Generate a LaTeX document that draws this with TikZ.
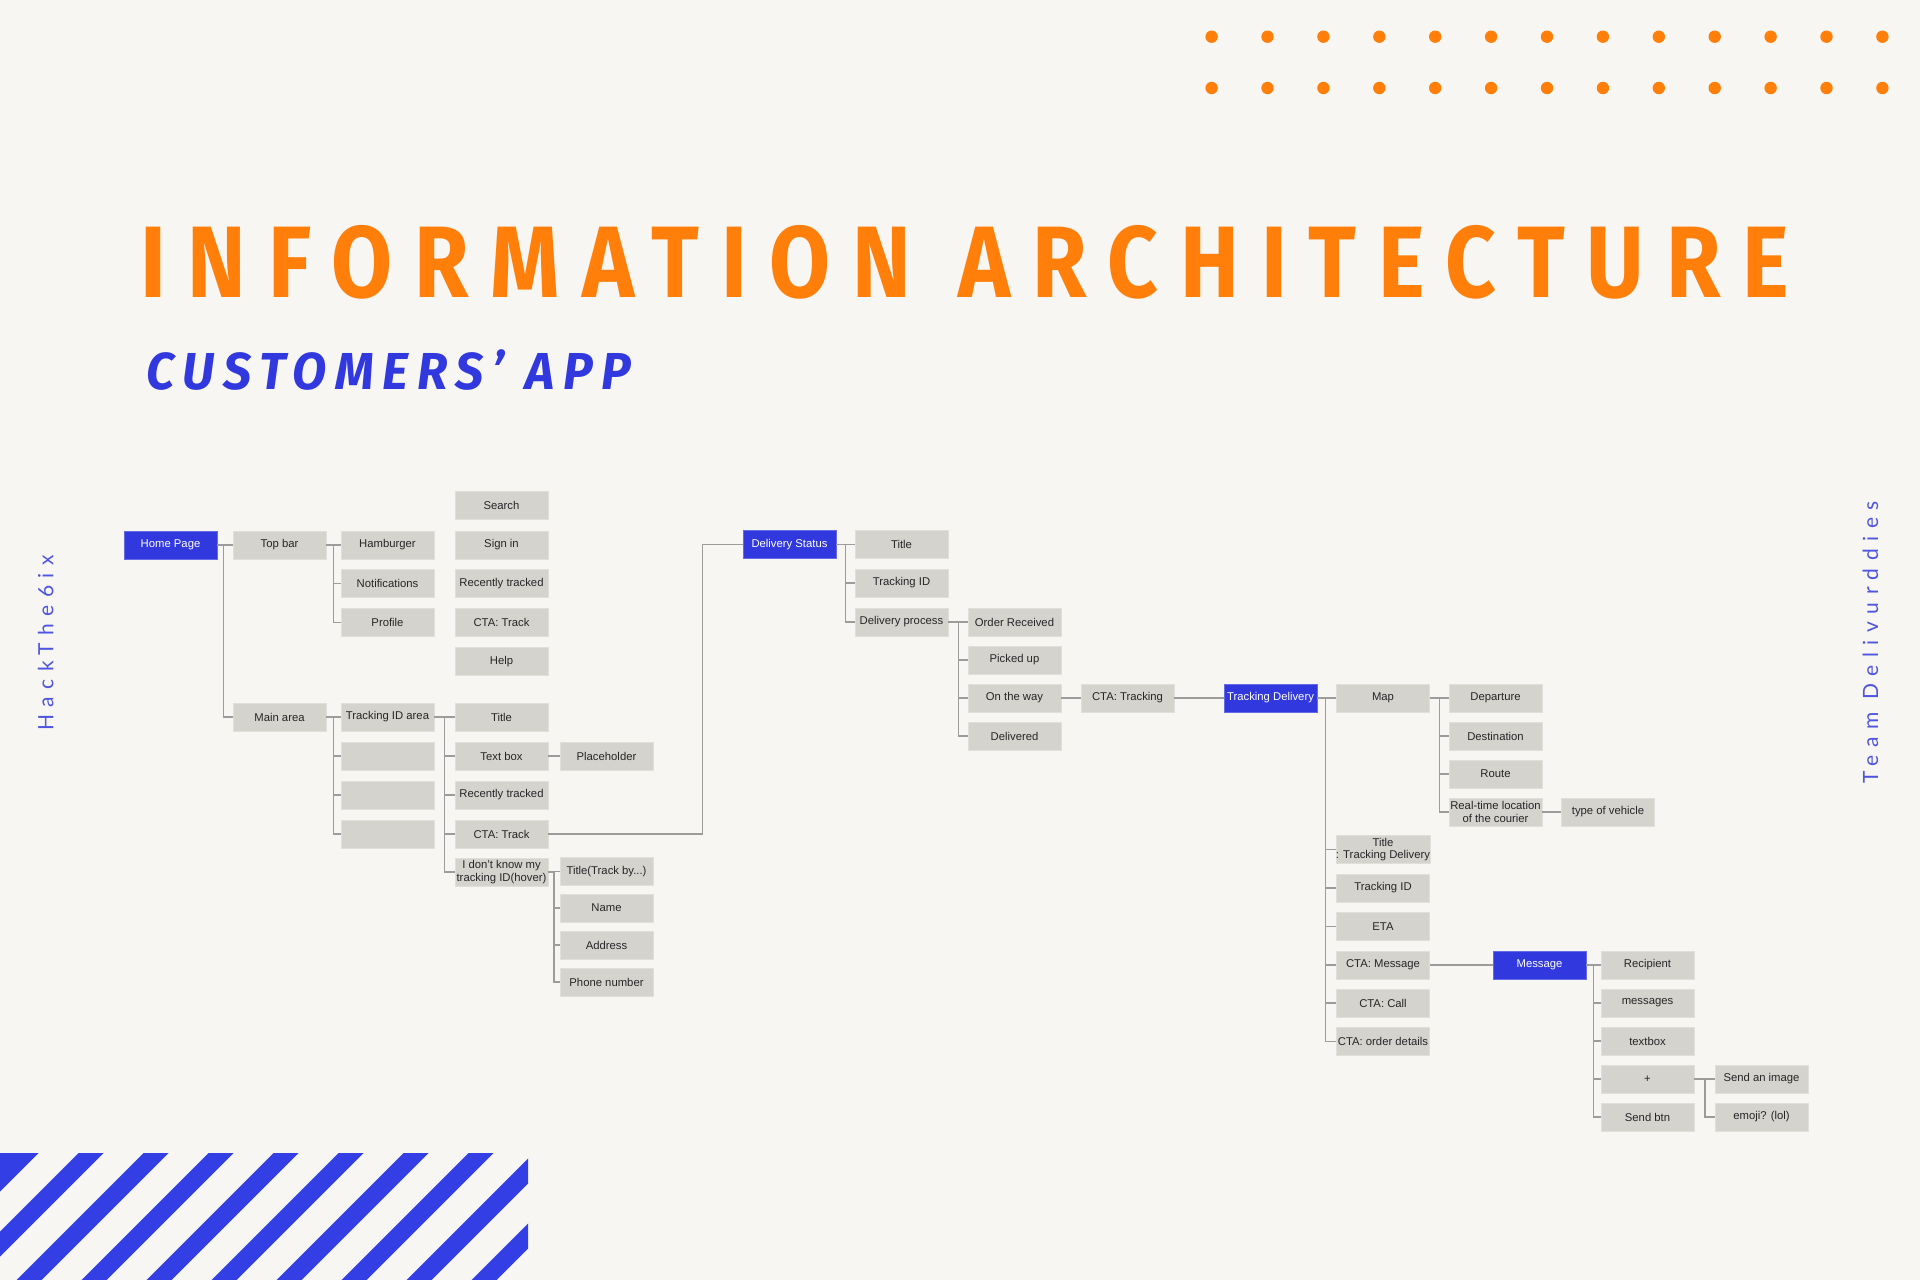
\documentclass[tikz,border=0pt]{standalone}
\usepackage{fontspec}
\setmainfont{Liberation Sans}
\newfontfamily\titlefont{Fira Sans}[FakeStretch=0.87,LetterSpace=21.5]
\newfontfamily\subtitlefont{Fira Sans}[FakeStretch=0.96,LetterSpace=17]
\newfontfamily\sidefont{Lato}[LetterSpace=36]
\usetikzlibrary{calc}
\definecolor{bg}{HTML}{F7F6F2}
\definecolor{accent}{HTML}{FF7F0A}
\definecolor{brand}{HTML}{3139DE}
\definecolor{stripeblue}{HTML}{333FE5}
\definecolor{boxgray}{HTML}{D4D3CE}
\definecolor{boxedge}{HTML}{E0DFDA}
\definecolor{linkgray}{HTML}{9C9C9A}
\definecolor{ink}{HTML}{262626}

\begin{document}
\begin{tikzpicture}[x=1pt,y=-1pt,
  item/.style={fill=boxgray, draw=boxedge, line width=0.8, minimum width=93, minimum height=28,
    inner sep=0, align=center, text=ink, font=\fontsize{11.3}{12.4}\selectfont},
  key/.style={item, fill=brand, draw=brand!75!white, text=white},
  link/.style={draw=linkgray, line width=1.3},
  dot/.style={fill=accent, draw=none}]

% canvas
\fill[bg] (0,0) rectangle (1920,1280);
\useasboundingbox (0,0) rectangle (1920,1280);

% dotted band, top right
\foreach \i in {0,...,12} {
  \fill[dot] (1211.6+55.9*\i,36.7) circle[radius=6.2];
  \fill[dot] (1211.6+55.9*\i,88) circle[radius=6.2];
}

% striped band, bottom left
\begin{scope}
  \clip (0,1153) rectangle (528,1280);
  \fill[stripeblue] (1153-1140,1140) -- (1191.6-1140,1140) -- (1191.6-1290,1290) -- (1153-1290,1290) -- cycle;
  \foreach \k in {1,...,10} {
    \pgfmathsetmacro{\c}{1166.6+65*\k}
    \fill[stripeblue] (\c-1140,1140) -- (\c+25-1140,1140) -- (\c+25-1290,1290) -- (\c-1290,1290) -- cycle;
  }
\end{scope}

% headings
\node[anchor=base west, inner sep=0, text=accent,
  font=\titlefont\bfseries\fontsize{101.6}{110}\selectfont] (title) at (140,297) {INFORMATION\hspace{5pt} ARCHITECTURE};
\node[anchor=base west, inner sep=0, text=brand,
  font=\subtitlefont\bfseries\itshape\fontsize{52}{56}\selectfont] (subtitle) at (146,389) {CUSTOMERS’\hspace{1pt} APP};

% side labels
\node[rotate=90, inner sep=0, text=brand!85!bg, font=\sidefont\fontsize{21}{21}\selectfont] (hack) at (45.8,643) {HackThe6ix};
\node[rotate=90, inner sep=0, text=brand!85!bg, font=\sidefont\fontsize{21}{21}\selectfont] (team) at (1870.5,642.5) {Team Delivurddies};

% ---- home page tree
\node[key]  (home)      at (170.5,545) {Home Page};
\node[item] (topbar)    at (279.5,545) {Top bar};
\node[item] (mainarea)  at (279.5,717) {Main area};
\node[item] (hamburger) at (387.5,545) {Hamburger};
\node[item] (notif)     at (387.5,583.5) {Notifications};
\node[item] (profile)   at (387.5,622.5) {Profile};
\node[item] (tia)       at (387.5,717) {Tracking ID area};
\node[item] (blanka)    at (387.5,756) {};
\node[item] (blankb)    at (387.5,795) {};
\node[item] (blankc)    at (387.5,834) {};

\node[item] (search)    at (501.5,505.5) {Search};
\node[item] (signin)    at (501.5,545) {Sign in};
\node[item] (recenta)   at (501.5,583.5) {Recently tracked};
\node[item] (ctatracka) at (501.5,622.5) {CTA: Track};
\node[item] (help)      at (501.5,661.5) {Help};

\node[item] (titlea)    at (501.5,717) {Title};
\node[item] (textbox)   at (501.5,756) {Text box};
\node[item] (recentb)   at (501.5,795) {Recently tracked};
\node[item] (ctatrackb) at (501.5,834) {CTA: Track};
\node[item] (idk)       at (501.5,872) {I don’t know my\\tracking ID(hover)};

\node[item] (placeholder) at (606.5,756) {Placeholder};
\node[item] (trackby)   at (606.5,871.5) {Title(Track by...)};
\node[item] (name)      at (606.5,908) {Name};
\node[item] (address)   at (606.5,945) {Address};
\node[item] (phone)     at (606.5,982) {Phone number};

% ---- delivery status tree
\node[key]  (ds)        at (789.5,544.5) {Delivery Status};
\node[item] (dtitle)    at (901.5,544.5) {Title};
\node[item] (dtid)      at (901.5,583) {Tracking ID};
\node[item] (dproc)     at (901.5,622) {Delivery process};
\node[item] (ordrec)    at (1014.5,622) {Order Received};
\node[item] (picked)    at (1014.5,660) {Picked up};
\node[item] (otw)       at (1014.5,698) {On the way};
\node[item] (delivered) at (1014.5,736) {Delivered};
\node[item] (ctatracking) at (1127.5,698) {CTA: Tracking};

% ---- tracking delivery tree
\node[key]  (td)        at (1270.5,698) {Tracking Delivery};
\node[item] (map)       at (1383,698) {Map};
\node[item] (departure) at (1495.5,698) {Departure};
\node[item] (destination) at (1495.5,736) {Destination};
\node[item] (route)     at (1495.5,774) {Route};
\node[item] (realtime)  at (1495.5,812) {Real-time location\\of the courier};
\node[item] (vehicle)   at (1608,812) {type of vehicle};
\node[item] (ttitle)    at (1383,849.5) {Title\\: Tracking Delivery};
\node[item] (ttid)      at (1383,888) {Tracking ID};
\node[item] (eta)       at (1383,926.5) {ETA};
\node[item] (ctamsg)    at (1383,965) {CTA: Message};
\node[item] (ctacall)   at (1383,1003) {CTA: Call};
\node[item] (ctaorder)  at (1383,1041.5) {CTA: order details};

% ---- message tree
\node[key]  (message)   at (1539.5,965) {Message};
\node[item] (recipient) at (1647.5,965) {Recipient};
\node[item] (messages)  at (1647.5,1003) {messages};
\node[item] (textboxb)  at (1647.5,1041) {textbox};
\node[item] (plus)      at (1647.5,1079) {+};
\node[item] (sendbtn)   at (1647.5,1117) {Send btn};
\node[item] (sendimg)   at (1761.5,1079) {Send an image};
\node[item] (emoji)     at (1761.5,1117) {emoji? (lol)};

% ---- connectors
\foreach \c in {topbar,mainarea} \draw[link] (home.east) -- ++(6,0) |- (\c.west);
\foreach \c in {hamburger,notif,profile} \draw[link] (topbar.east) -- ++(7.4,0) |- (\c.west);
\foreach \c in {tia,blanka,blankb,blankc} \draw[link] (mainarea.east) -- ++(7.4,0) |- (\c.west);
\foreach \c in {titlea,textbox,recentb,ctatrackb,idk} \draw[link] (tia.east) -- ++(10.4,0) |- (\c.west);
\draw[link] (textbox.east) -- (placeholder.west);
\foreach \c in {trackby,name,address,phone} \draw[link] (idk.east) -- ++(5.5,0) |- (\c.west);
\draw[link] (ctatrackb.east) -- ++(154,0) |- (ds.west);

\foreach \c in {dtitle,dtid,dproc} \draw[link] (ds.east) -- ++(9.4,0) |- (\c.west);
\foreach \c in {ordrec,picked,otw,delivered} \draw[link] (dproc.east) -- ++(10,0) |- (\c.west);
\draw[link] (otw.east) -- (ctatracking.west);
\draw[link] (ctatracking.east) -- (td.west);

\foreach \c in {map,ttitle,ttid,eta,ctamsg,ctacall,ctaorder} \draw[link] (td.east) -- ++(8,0) |- (\c.west);
\foreach \c in {departure,destination,route,realtime} \draw[link] (map.east) -- ++(9.6,0) |- (\c.west);
\draw[link] (realtime.east) -- (vehicle.west);
\draw[link] (ctamsg.east) -- (message.west);
\foreach \c in {recipient,messages,textboxb,plus,sendbtn} \draw[link] (message.east) -- ++(7.4,0) |- (\c.west);
\foreach \c in {sendimg,emoji} \draw[link] (plus.east) -- ++(10.5,0) |- (\c.west);

\end{tikzpicture}
\end{document}
